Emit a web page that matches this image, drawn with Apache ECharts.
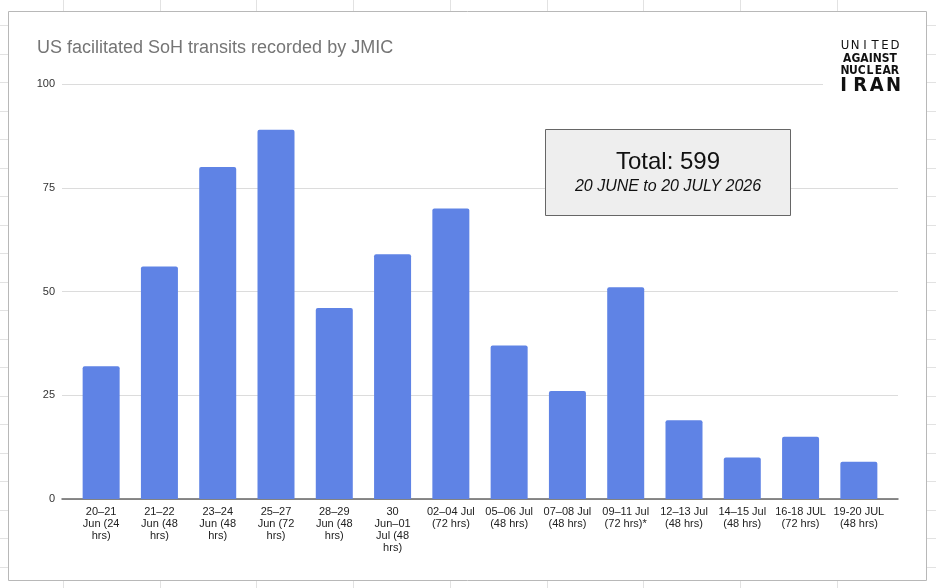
<!DOCTYPE html>
<html>
<head>
<meta charset="utf-8">
<script src="https://cdn.jsdelivr.net/npm/echarts@6/dist/echarts.min.js"></script>
<style>
  html, body { margin: 0; padding: 0; background: #fff; }
  #main { width: 936px; height: 588px; }
</style>
</head>
<body>
<div id="main"></div>
<script>
// periods (x axis) and number of transits
const periods = [
  '20–21\nJun (24\nhrs)', '21–22\nJun (48\nhrs)', '23–24\nJun (48\nhrs)', '25–27\nJun (72\nhrs)',
  '28–29\nJun (48\nhrs)', '30\nJun–01\nJul (48\nhrs)', '02–04 Jul\n(72 hrs)', '05–06 Jul\n(48 hrs)',
  '07–08 Jul\n(48 hrs)', '09–11 Jul\n(72 hrs)*', '12–13 Jul\n(48 hrs)', '14–15 Jul\n(48 hrs)',
  '16-18 JUL\n(72 hrs)', '19-20 JUL\n(48 hrs)'
];
const transits = [32, 56, 80, 89, 46, 59, 70, 37, 26, 51, 19, 10, 15, 9];
const yTicks = [0, 25, 50, 75, 100];

const total = transits.reduce((a, b) => a + b, 0);

const chart = echarts.init(document.getElementById('main'), null, { renderer: 'canvas' });

// spreadsheet cell lines peeking out around the chart frame
const sheet = [];
const cellLine = { stroke: '#e2e2e2', lineWidth: 1 };
for (let x = 63; x < 900; x += 96.7) {
  const px = Math.round(x) + 0.5;
  sheet.push({ type: 'line', shape: { x1: px, y1: 0, x2: px, y2: 11 }, style: cellLine, silent: true });
  sheet.push({ type: 'line', shape: { x1: px, y1: 581, x2: px, y2: 588 }, style: cellLine, silent: true });
}
for (let y = 25; y < 588; y += 28.5) {
  const py = Math.round(y) + 0.5;
  sheet.push({ type: 'line', shape: { x1: 0, y1: py, x2: 8, y2: py }, style: cellLine, silent: true });
  sheet.push({ type: 'line', shape: { x1: 927, y1: py, x2: 936, y2: py }, style: cellLine, silent: true });
}

// logo text, letter centres spread from c0 to c1
const logoFont = '"DejaVu Sans Condensed", "DejaVu Sans", sans-serif';
function spread(word, y, size, weight, c0, c1) {
  const n = word.length;
  return word.split('').map((ch, i) => ({
    type: 'text', x: c0 + i * (c1 - c0) / (n - 1), y: y, z: 20,
    style: { text: ch, fill: '#111', font: weight + ' ' + size + 'px ' + logoFont, textAlign: 'center', textVerticalAlign: 'middle' }
  }));
}

const font = 'Arial, "Liberation Sans", sans-serif';

const option = {
  backgroundColor: '#fff',
  animation: false,
  title: {
    text: 'US facilitated SoH transits recorded by JMIC',
    left: 37, top: 39, padding: 0,
    textStyle: { color: '#757575', fontSize: 18, fontWeight: 'normal', fontFamily: font }
  },
  // grid 0: value gridlines + baseline across the full plot; grid 1: the bars (inset like the original)
  grid: [
    { left: 62, right: 38, top: 84, bottom: 89 },
    { left: 72, right: 48, top: 84, bottom: 89 }
  ],
  xAxis: [{
    gridIndex: 0, type: 'category', data: periods,
    axisTick: { show: false }, axisLabel: { show: false },
    axisLine: { lineStyle: { color: '#666', width: 1.5 } }
  }, {
    gridIndex: 1, type: 'category', data: periods,
    axisTick: { show: false }, axisLine: { show: false },
    axisLabel: { interval: 0, margin: 7, color: '#222', fontSize: 11, lineHeight: 12, fontFamily: font }
  }],
  yAxis: [{
    gridIndex: 0, type: 'value',
    min: yTicks[0], max: yTicks[yTicks.length - 1], interval: 25,
    axisLine: { show: false }, axisTick: { show: false },
    splitLine: { lineStyle: { color: '#dcdcdc' } },
    axisLabel: { margin: 7, color: '#333', fontSize: 11, fontFamily: font }
  }, {
    gridIndex: 1, type: 'value',
    min: yTicks[0], max: yTicks[yTicks.length - 1], interval: 25,
    show: false
  }],
  series: [{
    type: 'bar',
    xAxisIndex: 1, yAxisIndex: 1,
    data: transits,
    barWidth: 37,
    itemStyle: { color: '#5f83e5', borderRadius: [2, 2, 0, 0] },
    z: 5
  }],
  graphic: [
    ...sheet,
    { type: 'rect', shape: { x: 8.5, y: 11.5, width: 918, height: 569 }, style: { fill: 'none', stroke: '#b8b8b8', lineWidth: 1 }, silent: true },
    // white patch behind the logo (the logo image hides the top gridline end)
    { type: 'rect', shape: { x: 823, y: 36, width: 80, height: 62 }, style: { fill: '#fff' }, z: 15 },
    ...spread('UNITED', 46, 13, 'normal', 845, 895),
    { type: 'text', x: 870, y: 58.5, z: 20,
      style: { text: 'AGAINST', fill: '#111', font: 'bold 12px ' + logoFont, textAlign: 'center', textVerticalAlign: 'middle' } },
    ...spread('NUCLEAR', 71, 12, 'bold', 845, 895),
    ...spread('IRAN', 86, 20, 'bold', 843.5, 893.5),
    // total box
    { type: 'rect', shape: { x: 545.5, y: 129.5, width: 245, height: 86 }, style: { fill: '#eeeeee', stroke: '#666', lineWidth: 1 }, z: 15 },
    { type: 'text', x: 668, y: 162, z: 16,
      style: { text: 'Total: ' + total, fill: '#111', font: '24px ' + font, textAlign: 'center', textVerticalAlign: 'middle' } },
    { type: 'text', x: 668, y: 187, z: 16,
      style: { text: '20 JUNE to 20 JULY 2026', fill: '#111', font: 'italic 16px ' + font, textAlign: 'center', textVerticalAlign: 'middle' } }
  ]
};

chart.setOption(option);
</script>
</body>
</html>
